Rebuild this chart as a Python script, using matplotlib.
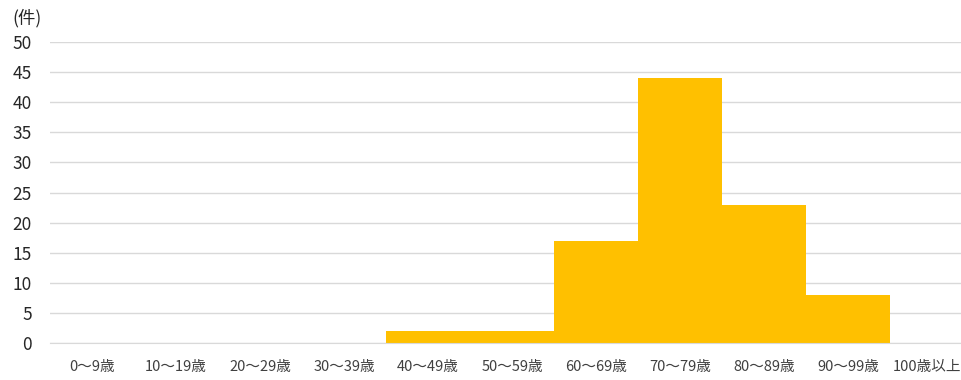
import matplotlib
matplotlib.use('Agg')
import matplotlib.pyplot as plt
from matplotlib.transforms import ScaledTranslation

plt.rcParams['font.family'] = ['Noto Sans CJK JP', 'DejaVu Sans']

categories = ['0～9歳', '10～19歳', '20～29歳', '30～39歳', '40～49歳', '50～59歳',
              '60～69歳', '70～79歳', '80～89歳', '90～99歳', '100歳以上']
counts = [0, 0, 0, 0, 2, 2, 17, 44, 23, 8, 0]
yticks = [0, 5, 10, 15, 20, 25, 30, 35, 40, 45, 50]

fig = plt.figure(figsize=(9.62, 3.8), dpi=100)
ax = fig.add_axes([50 / 962, 37 / 380, 924 / 962, 301 / 380])

x = list(range(len(categories)))
ax.bar(x, counts, width=1.0, color='#FFC000', zorder=2)

ax.set_xlim(-0.5, len(categories) - 0.5)
ax.set_ylim(0, 50)
ax.set_yticks(yticks)
ax.set_xticks(x)
ax.set_xticklabels(categories, fontsize=10.5, color='#404040')
ax.tick_params(axis='y', labelsize=12.5, colors='#262626', length=0, pad=13)
ax.tick_params(axis='x', length=0, pad=12)
ax.grid(axis='y', color='#D9D9D9', linewidth=1, zorder=0)
for s in ['top', 'right', 'left']:
    ax.spines[s].set_visible(False)
ax.spines['bottom'].set_color('#D9D9D9')

# last label would run off the right edge; nudge it left a bit
last = ax.get_xticklabels()[-1]
last.set_transform(last.get_transform() + ScaledTranslation(-5 / 100, 0, fig.dpi_scale_trans))

fig.text(12 / 962, 1 - 18 / 380, '(件)', fontsize=12.5, color='#262626', va='center', ha='left')

fig.savefig('out.png', dpi=100)
